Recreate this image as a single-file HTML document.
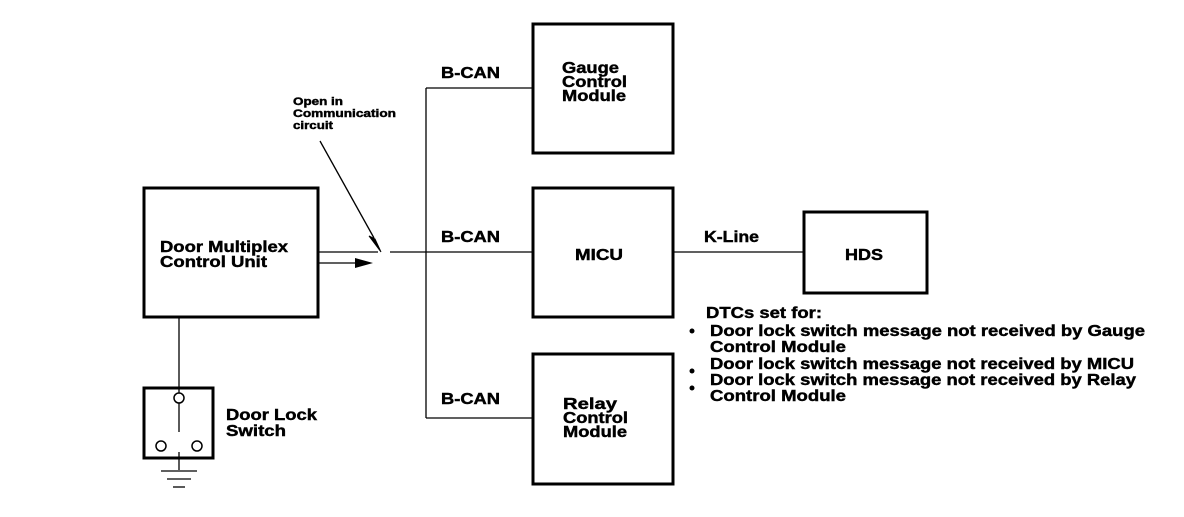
<!DOCTYPE html>
<html><head><meta charset="utf-8"><style>
html,body{margin:0;padding:0;background:#fff;}
svg text{font-family:"Liberation Sans",sans-serif;font-weight:bold;fill:#000;stroke:#000;stroke-width:0.45;}
</style></head><body>
<svg width="1184" height="512" viewBox="0 0 1184 512" xmlns="http://www.w3.org/2000/svg">
<g fill="none" stroke="#000">
<rect x="144" y="188" width="174" height="129" stroke-width="3"/>
<rect x="533" y="24" width="140" height="129" stroke-width="3"/>
<rect x="533" y="188" width="140" height="129" stroke-width="3"/>
<rect x="533" y="354" width="140" height="130" stroke-width="3"/>
<rect x="804" y="212" width="123" height="81" stroke-width="3"/>
<rect x="144" y="388" width="69" height="70" stroke-width="3"/>
<g stroke-width="1.3">
<line x1="426" y1="88" x2="426" y2="418"/>
<line x1="426" y1="88" x2="533" y2="88"/>
<line x1="390" y1="252" x2="533" y2="252"/>
<line x1="426" y1="418" x2="533" y2="418"/>
<line x1="318" y1="252" x2="378" y2="252"/>
<line x1="318" y1="263" x2="360" y2="263"/>
<line x1="673" y1="252" x2="804" y2="252"/>
<line x1="320" y1="141" x2="374" y2="238"/>
<line x1="179" y1="317" x2="179" y2="393"/>
<line x1="179" y1="403" x2="179" y2="432"/>
<line x1="179" y1="452" x2="179" y2="470"/>
<line x1="161" y1="471" x2="197" y2="471"/>
<line x1="167" y1="479" x2="191" y2="479"/>
<line x1="173" y1="487" x2="185" y2="487"/>
</g>
<circle cx="179" cy="398" r="5" stroke-width="1.5"/>
<circle cx="161" cy="446" r="5" stroke-width="1.5"/>
<circle cx="197" cy="446" r="5" stroke-width="1.5"/>
</g>
<polygon points="355,258 373,263 355,268" fill="#000"/>
<polygon points="369,236 381,252 375,239" fill="#000" stroke="#000" stroke-width="1"/>
<g font-size="16">
<text x="160" y="252" textLength="128" lengthAdjust="spacingAndGlyphs">Door Multiplex</text>
<text x="160" y="267" textLength="107" lengthAdjust="spacingAndGlyphs">Control Unit</text>
<text x="562" y="73" textLength="57" lengthAdjust="spacingAndGlyphs">Gauge</text>
<text x="562" y="87" textLength="65" lengthAdjust="spacingAndGlyphs">Control</text>
<text x="562" y="101" textLength="64" lengthAdjust="spacingAndGlyphs">Module</text>
<text x="575" y="260" textLength="48" lengthAdjust="spacingAndGlyphs">MICU</text>
<text x="563" y="409" textLength="54" lengthAdjust="spacingAndGlyphs">Relay</text>
<text x="563" y="423" textLength="65" lengthAdjust="spacingAndGlyphs">Control</text>
<text x="563" y="437" textLength="64" lengthAdjust="spacingAndGlyphs">Module</text>
<text x="845" y="260" textLength="38" lengthAdjust="spacingAndGlyphs">HDS</text>
<text x="441" y="78" textLength="59" lengthAdjust="spacingAndGlyphs">B-CAN</text>
<text x="441" y="242" textLength="59" lengthAdjust="spacingAndGlyphs">B-CAN</text>
<text x="441" y="404" textLength="59" lengthAdjust="spacingAndGlyphs">B-CAN</text>
<text x="704" y="242" textLength="55" lengthAdjust="spacingAndGlyphs">K-Line</text>
<text x="226" y="420" textLength="91" lengthAdjust="spacingAndGlyphs">Door Lock</text>
<text x="226" y="436" textLength="60" lengthAdjust="spacingAndGlyphs">Switch</text>
<text x="706" y="318" textLength="116" lengthAdjust="spacingAndGlyphs">DTCs set for:</text>
<text x="710" y="336" textLength="435" lengthAdjust="spacingAndGlyphs">Door lock switch message not received by Gauge</text>
<text x="710" y="352" textLength="136" lengthAdjust="spacingAndGlyphs">Control Module</text>
<text x="710" y="369" textLength="424" lengthAdjust="spacingAndGlyphs">Door lock switch message not received by MICU</text>
<text x="710" y="385" textLength="426" lengthAdjust="spacingAndGlyphs">Door lock switch message not received by Relay</text>
<text x="710" y="401" textLength="136" lengthAdjust="spacingAndGlyphs">Control Module</text>
</g>
<circle cx="692" cy="331" r="2.5" fill="#000"/>
<circle cx="692" cy="371" r="2.5" fill="#000"/>
<circle cx="692" cy="388" r="2.5" fill="#000"/>
<g font-size="11">
<text x="293" y="105" textLength="50" lengthAdjust="spacingAndGlyphs">Open in</text>
<text x="293" y="117" textLength="103" lengthAdjust="spacingAndGlyphs">Communication</text>
<text x="293" y="129" textLength="40" lengthAdjust="spacingAndGlyphs">circuit</text>
</g>
</svg>
</body></html>
